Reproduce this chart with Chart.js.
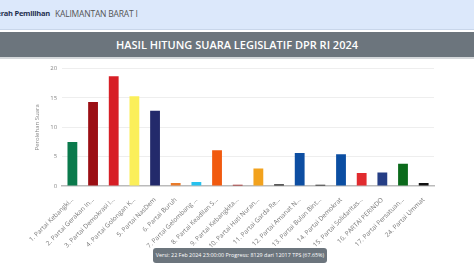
<!DOCTYPE html>
<html>
<head>
<meta charset="utf-8">
<script src="https://cdn.jsdelivr.net/npm/chart.js@4/dist/chart.umd.min.js"></script>
<style>
  body { margin: 0; width: 474px; height: 266px; overflow: hidden; background: #fff; font-family: "Open Sans", sans-serif; position: relative; }
  .dapil { position: absolute; left: 0; top: 0; width: 474px; height: 29px; background: #dce8fb; border-bottom: 1px solid #c9d6ea; }
  .dapil span { position: absolute; top: 8px; white-space: nowrap; }
  .dapil .lbl { right: 424px; font-weight: 700; color: #1f2f4f; font-size: 7.5px; letter-spacing: -0.25px; }
  .dapil .val { left: 55px; color: #555; font-size: 8.5px; letter-spacing: -0.2px; }
  .header { position: absolute; left: 0; top: 32px; width: 474px; height: 25px; background: #6c757d; border-bottom: 2px solid #d5d8db;
    color: #fff; font-weight: 600; font-size: 11px; line-height: 25px; text-align: center; }
  .chart { position: absolute; left: 0; top: 60px; width: 474px; height: 192px; }
  .badge { position: absolute; left: 153px; top: 248px; width: 174px; height: 15px; background: #6c757d; border-radius: 3px;
    color: #fff; font-size: 5.4px; line-height: 15px; text-align: center; white-space: nowrap; }
</style>
</head>
<body>
<div class="dapil"><span class="lbl">Daerah Pemilihan</span><span class="val">KALIMANTAN BARAT I</span></div>
<div class="header">HASIL HITUNG SUARA LEGISLATIF DPR RI 2024</div>
<div class="chart"><canvas id="suaraChart"></canvas></div>
<div class="badge">Versi: 22 Feb 2024 23:00:00 Progress: 8129 dari 12017 TPS (67.65%)</div>
<script>
// ## DATA ##
const partai = [
  "1. Partai Kebangki...",
  "2. Partai Gerakan In...",
  "3. Partai Demokrasi I...",
  "4. Partai Golongan K...",
  "5. Partai NasDem",
  "6. Partai Buruh",
  "7. Partai Gelombang ...",
  "8. Partai Keadilan S...",
  "9. Partai Kebangkita...",
  "10. Partai Hati Nuran...",
  "11. Partai Garda Re...",
  "12. Partai Amanat N...",
  "13. Partai Bulan Bint...",
  "14. Partai Demokrat",
  "15. Partai Solidaritas...",
  "16. PARTAI PERINDO",
  "17. Partai Persatuan...",
  "24. Partai Ummat",
];
const perolehan = [7.5, 14.3, 18.7, 15.3, 12.8, 0.5, 0.7, 6.1, 0.2, 3.0, 0.3, 5.6, 0.2, 5.4, 2.2, 2.3, 3.8, 0.5];
const warna = [
  "#0a7a4c", "#9b0f14", "#d71f26", "#fbef5a", "#232a6b", "#e97b2b",
  "#27c1ee", "#f15a0f", "#a01919", "#f2a21d", "#222222", "#0d4ea2",
  "#111111", "#0b4ea2", "#e12b2f", "#253e85", "#0b6a1b", "#111111",
];
const yTicks = [0, 5, 10, 15, 20];

const ctx = document.getElementById("suaraChart").getContext("2d");
window.suaraChart = new Chart(ctx, {
  type: "bar",
  data: {
    labels: partai,
    datasets: [
      {
        label: "Perolehan Suara",
        data: perolehan,
        backgroundColor: warna,
        barPercentage: 0.5,
        categoryPercentage: 0.95,
      },
    ],
  },
  options: {
    responsive: true,
    maintainAspectRatio: false,
    animation: false,
    layout: { padding: { left: 30, right: 40, top: 4, bottom: 0 } },
    plugins: { legend: { display: false }, tooltip: { enabled: false } },
    scales: {
      y: {
        min: 0,
        max: 20,
        afterBuildTicks: (axis) => {
          axis.ticks = yTicks.map((v) => ({ value: v }));
        },
        title: {
          display: true,
          text: "Perolehan Suara",
          color: "#888",
          font: { family: "Open Sans", size: 6 },
          padding: 4,
        },
        ticks: { color: "#888", font: { family: "Open Sans", size: 6 }, padding: 5 },
        border: { display: false },
        grid: { color: "#eeeeee", lineWidth: 1, drawTicks: false },
      },
      x: {
        ticks: {
          color: "#777",
          font: { family: "Open Sans", size: 6.5 },
          minRotation: 45,
          maxRotation: 45,
          autoSkip: false,
          padding: 2,
        },
        border: { color: "#bbbbbb", width: 1.5 },
        grid: { display: false },
      },
    },
  },
});
</script>
</body>
</html>
